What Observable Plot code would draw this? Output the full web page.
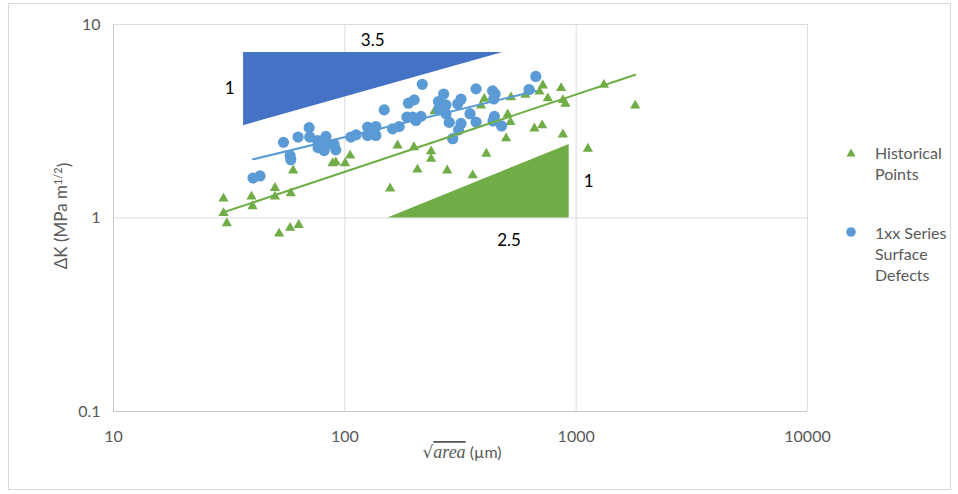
<!DOCTYPE html>
<html>
<head>
<meta charset="utf-8">
<script src="https://cdn.jsdelivr.net/npm/d3@7"></script>
<script src="https://cdn.jsdelivr.net/npm/@observablehq/plot@0.6"></script>
<style>
  body { margin: 0; background: #fff; }
  #wrap { position: relative; width: 958px; height: 494px; font-family: Lato, sans-serif; }
  #frame { position: absolute; left: 8px; top: 3px; width: 943px; height: 487px; border: 1px solid #d9d9d9; box-sizing: border-box; pointer-events: none; }
  .lg { position: absolute; font-size: 16px; line-height: 21px; color: #595959; }
  .lgm { position: absolute; }
</style>
</head>
<body>
<div id="wrap">
  <div id="frame"></div>
  <div id="chart"></div>
  <svg class="lgm" style="left:845px;top:147px" width="12" height="12"><polygon points="6,1.5 10.5,9.5 1.5,9.5" fill="#70AD47"/></svg>
  <div class="lg" style="left:875px;top:142px">Historical<br>Points</div>
  <svg class="lgm" style="left:845px;top:226px" width="12" height="12"><circle cx="6" cy="6" r="4.8" fill="#5B9BD5"/></svg>
  <div class="lg" style="left:875px;top:222px">1xx Series<br>Surface<br>Defects</div>
</div>
<script>
// ---- data ----
const xTicks = [10, 100, 1000, 10000];
const yTicks = [0.1, 1, 10];

// Historical Points
const histX = [29.9, 29.9, 30.9, 39.5, 39.9, 49.9, 49.9, 58.4, 59.8, 52.0, 58.0, 63.2, 88.5, 91.4, 100.3, 105.4,
  157, 169, 199, 236, 236, 206, 277, 357, 409, 498, 506, 520, 660, 713, 876, 718, 694, 861, 754, 876, 899,
  523, 401, 388, 244, 603, 1318, 1800, 1124];
const histY = [1.26, 1.06, 0.94, 1.29, 1.15, 1.43, 1.29, 1.34, 1.76, 0.83, 0.89, 0.92, 1.92, 1.94, 1.92, 2.10,
  1.42, 2.37, 2.32, 2.21, 2.02, 1.78, 1.76, 1.66, 2.15, 2.58, 3.43, 3.13, 2.90, 3.01, 2.70, 4.84, 4.50, 4.69, 4.15, 4.07, 3.89,
  4.20, 4.13, 3.81, 3.56, 4.33, 4.88, 3.81, 2.28];

// 1xx Series Surface Defects
const serX = [40.1, 43.0, 54.3, 62.8, 58.0, 58.4, 70.1, 70.5, 76.2, 76.6, 82.8, 84.2, 81.4, 89.9, 91.4, 106.2, 111.9,
  125.4, 125.4, 136.2, 136.2, 148.0, 160.9, 171.8, 185.5, 188.3, 199.5, 196.4, 203.0, 213.3, 216.1, 254.0, 267.5,
  273.7, 273.7, 282.8, 307.5, 317.8, 317.8, 309.9, 292.6, 347.6, 369.2, 369.2, 435.1, 446.1, 440.3, 443.0, 437.2,
  475.9, 625.9, 669.2, 255.2];
const serY = [1.61, 1.65, 2.46, 2.62, 2.10, 2.00, 2.93, 2.62, 2.51, 2.31, 2.64, 2.42, 2.23, 2.40, 2.25, 2.62, 2.69,
  2.95, 2.67, 2.97, 2.67, 3.62, 2.89, 2.97, 3.32, 3.92, 4.08, 3.32, 3.19, 3.35, 4.91, 4.00, 4.37,
  3.84, 3.46, 3.12, 3.89, 4.11, 3.08, 2.85, 2.57, 3.46, 4.65, 3.13, 4.54, 4.37, 4.12, 3.35, 3.17,
  2.99, 4.61, 5.39, 3.62];

// Power trendlines (end points)
const histTrendX = [29.9, 1800];
const histTrendY = [1.07, 5.50];
const serTrendX = [40.1, 669.2];
const serTrendY = [2.01, 4.53];

// Slope triangles
const blueWedgeX = [36.5, 483];
const blueWedgeLow = [3.0, 7.17];
const blueWedgeHigh = [7.17, 7.17];
const greenWedgeX = [153.5, 933];
const greenWedgeLow = [1.0, 1.0];
const greenWedgeHigh = [1.0, 2.4];

// Slope labels
const annText = ["3.5", "1", "1", "2.5"];
const annX = [132, 31.8, 1132, 513];
const annY = [8.26, 4.64, 1.544, 0.765];

// ---- tables ----
const hist = histX.map((x, i) => ({x, y: histY[i]}));
const ser = serX.map((x, i) => ({x, y: serY[i]}));
const histTrend = histTrendX.map((x, i) => ({x, y: histTrendY[i]}));
const serTrend = serTrendX.map((x, i) => ({x, y: serTrendY[i]}));
const blueWedge = blueWedgeX.map((x, i) => ({x, y1: blueWedgeLow[i], y2: blueWedgeHigh[i]}));
const greenWedge = greenWedgeX.map((x, i) => ({x, y1: greenWedgeLow[i], y2: greenWedgeHigh[i]}));
const ann = annText.map((t, i) => ({t, x: annX[i], y: annY[i]}));

const svg = Plot.plot({
  width: 958,
  height: 494,
  marginLeft: 113,
  marginRight: 151,
  marginTop: 24,
  marginBottom: 83,
  style: {fontFamily: "Lato, sans-serif", fontSize: "16px", color: "#595959", background: "transparent", overflow: "visible"},
  x: {type: "log", domain: [10, 10000]},
  y: {type: "log", domain: [0.1, 10]},
  marks: [
    Plot.gridX({ticks: xTicks.slice(1), stroke: "#d9dce1", strokeOpacity: 1}),
    Plot.gridY({ticks: yTicks.slice(1), stroke: "#d9dce1", strokeOpacity: 1}),
    Plot.ruleX([10], {stroke: "#c4c8cf"}),
    Plot.ruleY([0.1], {stroke: "#c4c8cf"}),
    Plot.axisX({ticks: xTicks, tickSize: 0, tickPadding: 19, tickFormat: d => String(d), label: null, fill: "#595959"}),
    Plot.axisY({ticks: yTicks, tickSize: 0, tickPadding: 13, tickFormat: d => String(d), label: null, fill: "#595959"}),
    Plot.dot(hist, {x: "x", y: "y", symbol: "triangle", r: 3.8, fill: "#70AD47"}),
    Plot.dot(ser, {x: "x", y: "y", r: 5.6, fill: "#5B9BD5"}),
    Plot.line(histTrend, {x: "x", y: "y", stroke: "#70AD47", strokeWidth: 2}),
    Plot.line(serTrend, {x: "x", y: "y", stroke: "#5B9BD5", strokeWidth: 2}),
    Plot.areaY(blueWedge, {x: "x", y1: "y1", y2: "y2", fill: "#4472C4"}),
    Plot.areaY(greenWedge, {x: "x", y1: "y1", y2: "y2", fill: "#70AD47"}),
    Plot.text(ann, {x: "x", y: "y", text: "t", fill: "#000", fontSize: 17})
  ]
});

const s = d3.select(svg);
// y-axis title with superscript
const yt = s.append("text")
  .attr("transform", "translate(61,216) rotate(-90)")
  .attr("text-anchor", "middle")
  .attr("dy", "0.35em")
  .attr("fill", "#595959")
  .style("font-size", "17px");
yt.append("tspan").text("\u0394K (MPa m");
yt.append("tspan").attr("dy", "-0.45em").style("font-size", "11px").text("1/2");
yt.append("tspan").attr("dy", "0.45em").text(")");

// x-axis title: sqrt(area) (µm)
const xt = s.append("text")
  .attr("x", 462).attr("y", 458)
  .attr("text-anchor", "middle")
  .attr("fill", "#595959")
  .style("font-size", "16px");
xt.append("tspan").style("font-family", "'DejaVu Serif', serif").style("font-size", "17px").text("\u221A");
xt.append("tspan").style("font-family", "'Liberation Serif', serif").style("font-style", "italic").style("font-size", "18px")
  .style("text-decoration", "overline").text("area");
xt.append("tspan").text(" (\u00B5m)");

document.getElementById("chart").appendChild(svg);
</script>
</body>
</html>
